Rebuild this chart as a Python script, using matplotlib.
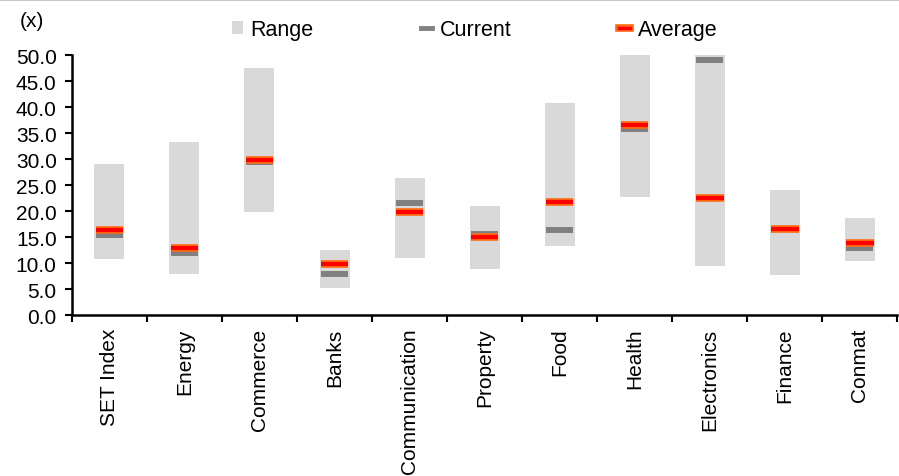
import numpy as np
import matplotlib.pyplot as plt
import matplotlib.patheffects as pe
from matplotlib.lines import Line2D
from matplotlib.patches import Patch

plt.rcParams['font.family'] = ['Liberation Sans', 'DejaVu Sans']

# PE ranges by sector
sectors = ["SET Index", "Energy", "Commerce", "Banks", "Communication", "Property",
           "Food", "Health", "Electronics", "Finance", "Conmat"]
range_low = [10.8, 7.9, 19.8, 5.2, 11.0, 8.8, 13.3, 22.7, 9.4, 7.6, 10.3]
range_high = [29.0, 33.3, 47.5, 12.6, 26.3, 21.0, 40.8, 50.0, 50.0, 24.0, 18.6]
current = [15.4, 11.9, 29.4, 7.9, 21.5, 15.6, 16.4, 35.8, 49.1, 16.5, 12.8]
average = [16.3, 12.9, 29.9, 9.9, 19.9, 15.1, 21.8, 36.6, 22.6, 16.5, 13.8]
yticks = np.arange(0, 50.1, 5)

x = np.arange(len(sectors))
low = np.array(range_low)
high = np.array(range_high)

fig = plt.figure(figsize=(8.99, 4.77), dpi=100)
ax = fig.add_axes([0.080, 0.3375, 0.918, 0.545])

avg_fx = [pe.Stroke(linewidth=5.5, foreground="#ff6a13"), pe.Normal()]

ax.bar(x, high - low, bottom=low, width=0.4, color="#d9d9d9", zorder=1)
ax.hlines(current, x - 0.18, x + 0.18, color="#808080", lw=4.3, zorder=2)
avg = ax.hlines(average, x - 0.185, x + 0.185, color="#ff0000", lw=3, zorder=3)
avg.set_path_effects(avg_fx)

ax.set_xlim(-0.5, len(sectors) - 0.5)
ax.set_ylim(0, 50)
ax.set_yticks(yticks)
ax.set_yticklabels([f"{v:.1f}" for v in yticks], fontsize=15)
ax.set_xticks(x)
ax.set_xticklabels(sectors, rotation=90, fontsize=15)
ax.set_xticks(np.arange(-0.5, len(sectors)), minor=True)
ax.tick_params(axis="x", which="major", length=0, pad=9)
ax.tick_params(axis="x", which="minor", length=5, width=1.5, direction="out")
ax.tick_params(axis="y", length=5, width=1.5, direction="out", pad=6)

for s in ["top", "right"]:
    ax.spines[s].set_visible(False)
for s in ["left", "bottom"]:
    ax.spines[s].set_linewidth(1.8)

fig.text(0.022, 0.955, "(x)", fontsize=15, va="center")

handles = [
    Patch(facecolor="#d9d9d9", label="Range"),
    Line2D([], [], color="#808080", lw=3.5, label="Current"),
    Line2D([], [], color="#ff0000", lw=2.5, label="Average", path_effects=avg_fx),
]
ax.legend(handles=handles, loc="upper left", bbox_to_anchor=(0.17, 1.212), ncol=3,
          frameon=False, fontsize=15.5, handlelength=0.52, handleheight=0.52,
          handletextpad=0.35, columnspacing=5.0)

# thin rule along the top edge
fig.add_artist(plt.Line2D([0, 1], [0.998, 0.998], color="#c8c8c8", lw=1.5))

fig.savefig("out.png", dpi=100)
